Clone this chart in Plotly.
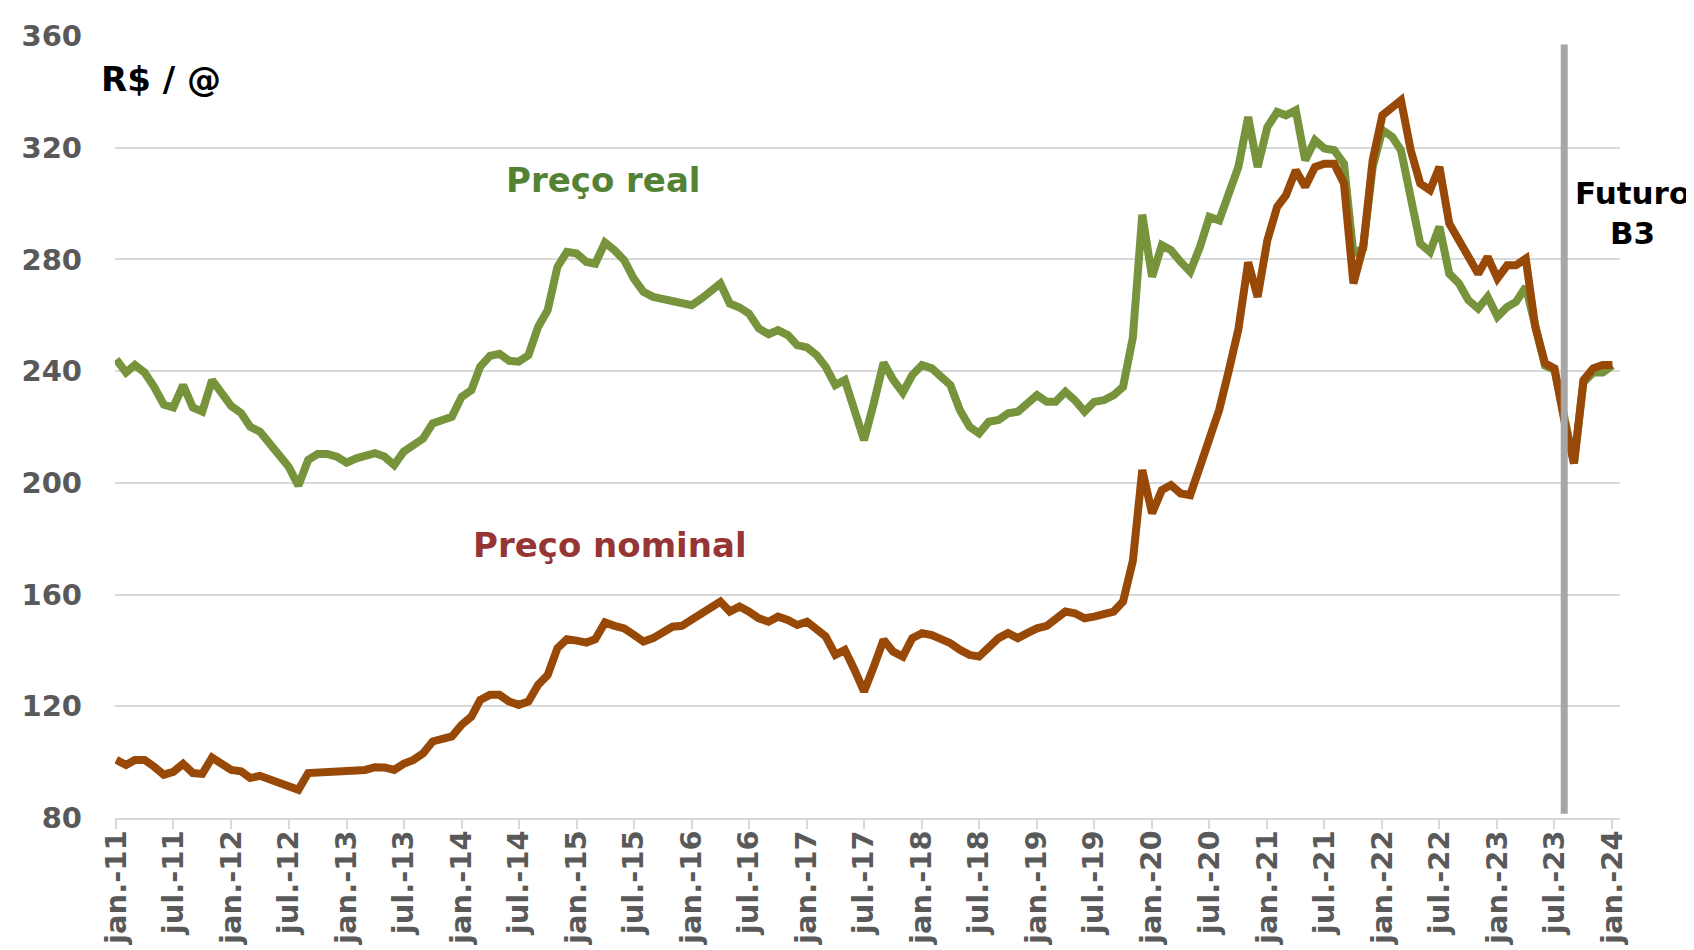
import pandas as pd
import plotly.graph_objects as go

# ---------------- data ----------------
months = pd.date_range("2011-01-01", periods=157, freq="MS")

preco_real = [
    244.2, 239.5, 242.2, 239.5, 234.4, 228.0, 227.0, 235.0, 227.0, 225.5, 236.8, 232.0,
    227.5, 225.0, 220.1, 218.3, 214.1, 210.0, 205.8, 199.0, 208.2, 210.3, 210.3, 209.4,
    207.2, 208.8, 209.4, 210.6, 209.4, 206.4, 211.2, 213.5, 215.9, 221.3, 222.5, 223.7,
    230.8, 233.2, 241.6, 245.5, 246.2, 243.7, 243.4, 245.7, 255.9, 261.8, 277.3, 282.7,
    282.1, 279.1, 278.5, 286.0, 283.3, 279.7, 273.2, 268.4, 266.6, 265.7, 265.4, 264.2,
    263.6, 266.0, 269.0, 271.4, 264.2, 262.8, 260.6, 255.3, 253.2, 254.7, 252.9, 249.3,
    248.5, 245.7, 241.6, 235.0, 236.8, 226.1, 215.3, 228.5, 243.0, 237.0, 232.3, 238.6,
    242.2, 241.0, 238.0, 235.0, 226.1, 220.1, 217.7, 221.9, 222.5, 224.9, 225.5, 228.5,
    231.4, 229.0, 229.0, 232.6, 229.6, 225.5, 229.0, 229.6, 231.4, 234.4, 252.0, 296.0,
    273.8, 285.1, 283.3, 279.1, 275.6, 284.5, 295.2, 294.0, 303.6, 313.1, 331.0, 313.1,
    327.4, 332.8, 331.6, 333.4, 315.5, 322.7, 319.7, 319.1, 314.3, 282.0, 284.0, 313.0,
    326.3, 323.9, 319.1, 301.2, 285.7, 282.7, 291.7, 274.9, 271.4, 265.4, 262.4, 266.6,
    259.5, 263.0, 264.8, 270.2, 255.0, 242.0, 240.5, 222.5, 207.0, 236.0, 239.5, 239.5,
    242.0,
]

preco_nominal = [
    100.8, 99.0, 100.8, 100.8, 98.4, 95.5, 96.5, 99.4, 96.1, 95.8, 101.6, 99.0,
    97.2, 96.7, 94.3, 95.1, 93.7, 92.2, 91.5, 90.1, 96.1, 96.3, 96.3, 96.3,
    96.4, 96.9, 97.2, 98.2, 98.1, 97.2, 99.4, 100.8, 103.2, 107.4, 108.2, 109.2,
    113.4, 116.3, 122.3, 124.1, 124.1, 121.7, 120.5, 121.7, 127.7, 131.2, 140.8, 144.0,
    143.5, 142.8, 144.0, 150.0, 148.8, 147.9, 145.6, 143.2, 144.4, 146.2, 148.5, 148.8,
    150.9, 153.3, 155.1, 157.5, 153.9, 155.7, 153.9, 151.5, 150.3, 152.1, 150.9, 149.1,
    150.3, 147.3, 145.0, 138.4, 140.2, 133.0, 125.3, 134.2, 143.8, 139.6, 137.8, 144.4,
    146.2, 145.5, 144.4, 142.6, 140.2, 138.4, 137.8, 141.4, 144.4, 146.2, 144.4, 146.2,
    147.9, 148.8, 150.9, 153.9, 153.3, 151.5, 152.1, 153.1, 153.9, 157.5, 172.0, 204.6,
    189.1, 197.4, 199.2, 196.2, 195.6, 205.8, 216.5, 226.1, 240.4, 255.0, 279.0, 266.6,
    286.9, 298.8, 303.0, 311.9, 306.0, 313.1, 314.3, 314.3, 307.2, 271.4, 284.5, 315.5,
    331.6, 334.6, 337.0, 319.1, 307.2, 304.8, 313.1, 292.9, 286.9, 280.9, 274.9, 280.9,
    273.2, 277.9, 277.9, 280.3, 255.9, 242.8, 241.0, 222.5, 207.0, 236.8, 241.0, 242.2,
    242.2,
]

tick_dates = pd.date_range("2011-01-01", "2024-01-01", freq="6MS")
tick_labels = [("jan.-" if d.month == 1 else "jul.-") + d.strftime("%y") for d in tick_dates]

y_ticks = [80, 120, 160, 200, 240, 280, 320, 360]
futuro_date = "2023-08-01"

# ---------------- layout geometry ----------------
# the page body adds an 8px offset, so the figure is 8px smaller and
# target page coordinates are shifted by -8
OFF = 8
W, H = 1694 - OFF, 950 - OFF
ML, MT = 115 - OFF, 36 - OFF
MR = W - (1620 - OFF)
MB = H - (818.5 - OFF)
PW, PH = W - ML - MR, H - MT - MB


def px_x(x):
    return (x - OFF - ML) / PW


def px_y(y):
    return (H - MB - (y - OFF)) / PH


GREEN = "#77933C"
BROWN = "#984807"
FONT = "DejaVu Sans"

fig = go.Figure()
fig.add_trace(go.Scatter(x=months, y=preco_real, mode="lines",
                         line=dict(color=GREEN, width=8), name="Preço real",
                         hoverinfo="x+y"))
fig.add_trace(go.Scatter(x=months, y=preco_nominal, mode="lines",
                         line=dict(color=BROWN, width=8), name="Preço nominal",
                         hoverinfo="x+y"))

# vertical separator (Futuro B3)
fig.add_shape(type="line", xref="x", yref="y", x0=futuro_date, x1=futuro_date,
              y0=81.5, y1=357, line=dict(color="#A6A6A6", width=7), layer="above")
# left border of chart area
fig.add_shape(type="line", xref="paper", yref="paper", x0=px_x(4), x1=px_x(4),
              y0=px_y(OFF), y1=px_y(950), line=dict(color="#D9D9D9", width=1.5))

annots = [
    dict(text="<b>R$ / @</b>", x=px_x(161), y=px_y(79), color="black", size=34),
    dict(text="<b>Preço real</b>", x=px_x(603), y=px_y(180), color="#548235", size=34),
    dict(text="<b>Preço nominal</b>", x=px_x(610), y=px_y(545), color="#963634", size=34),
    dict(text="<b>Futuro</b><br><b>B3</b>", x=px_x(1632), y=px_y(213), color="black", size=31),
]
for a in annots:
    fig.add_annotation(text=a["text"], x=a["x"], y=a["y"], xref="paper", yref="paper",
                       showarrow=False, xanchor="center", yanchor="middle", align="center",
                       font=dict(family=FONT, size=a["size"], color=a["color"]))

fig.update_layout(
    width=W, height=H,
    margin=dict(l=ML, r=MR, t=MT, b=MB, pad=0, autoexpand=False),
    paper_bgcolor="white", plot_bgcolor="white",
    showlegend=False,
    font=dict(family=FONT, color="#595959"),
)
fig.update_xaxes(
    range=["2010-12-28", "2024-01-25"], automargin=False,
    tickmode="array", tickvals=tick_dates, ticktext=tick_labels,
    tickangle=-90, tickfont=dict(family=FONT, size=29, color="#595959", weight="bold"),
    ticks="outside", ticklen=9, tickcolor="#D9D9D9", tickwidth=1.5,
    showgrid=False, showline=True, linecolor="#D9D9D9", linewidth=1.5,
    ticklabelstandoff=-10, zeroline=False,
)
fig.update_yaxes(
    range=[80, 360], tickmode="array", tickvals=y_ticks, automargin=False,
    tickfont=dict(family=FONT, size=29, color="#595959", weight="bold"),
    showgrid=True, gridcolor="#D9D9D9", gridwidth=1.5,
    showline=False, zeroline=False, ticks="", ticklabelstandoff=32,
)

fig.write_html("out.html")
